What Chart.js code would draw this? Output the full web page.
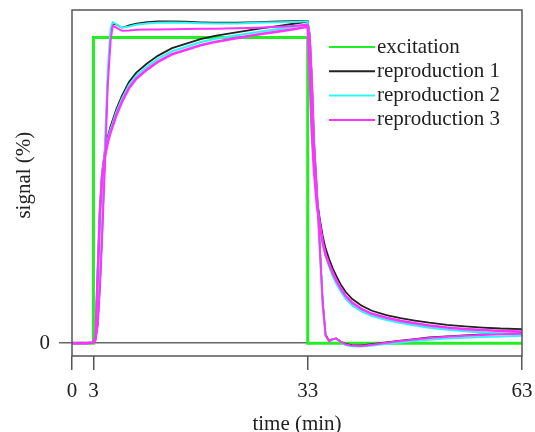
<!DOCTYPE html>
<html>
<head>
<meta charset="utf-8">
<script src="https://cdn.jsdelivr.net/npm/chart.js@4.4.1/dist/chart.umd.min.js"></script>
<style>
  html, body { margin: 0; padding: 0; background: #fff; }
</style>
</head>
<body>
<canvas id="signalChart" width="535" height="432"></canvas>
<script>
// time axis (min) shared by the reproduction traces
const timeMin = [0, 1, 2, 3, 3.3, 3.6, 3.9, 4.2, 4.6, 5.0, 5.4, 5.7, 6.2, 7.0, 8.0, 9.0, 10.5, 12, 14, 16, 18, 20, 23, 26, 29, 31, 33,
  33.3, 33.6, 33.9, 34.3, 34.7, 35.1, 35.5, 36.0, 36.5, 37.0, 37.6, 38.3, 39.2, 40.5, 42, 44, 46, 48, 50, 52.5, 55, 57.5, 60, 63];

// excitation step
const excTime = [0, 3, 3, 33, 33, 63];
const excValue = [0, 0, 100, 100, 0, 0];

// fast responding traces
const rep1Fast = [0, 0, 0, 0.2, 1, 6, 18, 34, 60, 86, 101, 104.6, 104.2, 103.2, 104, 104.6, 105.1, 105.3, 105.3, 105.2, 105, 104.9, 104.9, 105.1, 105.3, 105.4, 105.5,
  101, 86, 66, 50, 32, 14, 3, 0.8, 1.4, 1.6, 0.6, -0.2, -0.6, -0.7, -0.3, 0.3, 0.9, 1.4, 1.9, 2.3, 2.6, 2.9, 3.1, 3.3];
const rep2Fast = [0, 0, 0, 0.2, 1.5, 8, 21, 38, 64, 89, 103, 105, 104.4, 103.2, 103.6, 104.2, 104.6, 104.8, 104.9, 104.8, 104.7, 104.6, 104.6, 104.8, 105, 105.1, 105.3,
  100, 84, 64, 48, 30, 12, 2.5, 0.5, 1.2, 1.4, 0.3, -0.6, -1.0, -1.1, -0.8, -0.3, 0.2, 0.7, 1.1, 1.5, 1.8, 2.0, 2.2, 2.4];
const rep3Fast = [0, 0, 0, 0.2, 1, 6, 18, 34, 58, 84, 99, 103.8, 103.2, 102.2, 102.3, 102.5, 102.6, 102.6, 102.7, 102.8, 102.9, 102.9, 103, 103.2, 103.5, 103.8, 104.2,
  100, 85, 65, 49, 31, 13, 2.5, 0.6, 1.3, 1.5, 0.4, -0.4, -0.8, -0.9, -0.5, 0.1, 0.7, 1.2, 1.7, 2.1, 2.4, 2.7, 2.9, 3.1];

// slow responding traces
const rep1Slow = [0, 0, 0, 0.2, 2, 23, 43, 55.5, 63, 67.5, 71, 73, 76.5, 81, 85.5, 88.5, 91.5, 94, 96.5, 98, 99.5, 100.5, 101.7, 102.8, 103.8, 104.5, 105.2,
  90, 70, 58, 47, 40.5, 35, 31, 27.5, 24.5, 22, 19.3, 16.8, 14.5, 12.3, 10.6, 9.2, 8.2, 7.4, 6.7, 6, 5.5, 5.1, 4.8, 4.6];
const rep2Slow = [0, 0, 0, 0.2, 2, 23, 43, 55, 62, 66.5, 70, 72, 75.5, 80, 84.5, 87.5, 90.5, 93, 95.5, 97, 98.5, 99.5, 100.7, 101.8, 102.8, 103.5, 104.3,
  89, 69, 57, 45.5, 38.5, 32.5, 28.5, 25, 22, 19.5, 17, 14.6, 12.4, 10.4, 8.9, 7.6, 6.6, 5.8, 5.1, 4.4, 3.9, 3.5, 3.2, 3.0];
const rep3Slow = [0, 0, 0, 0.2, 2, 22, 42, 54, 61, 65.5, 69, 71, 74.5, 79, 83.5, 86.5, 89.5, 92, 94.5, 96, 97.5, 98.5, 99.8, 101, 102, 102.7, 103.5,
  88, 68, 56, 45, 38.5, 33, 29, 25.8, 23, 20.5, 18, 15.5, 13.3, 11.2, 9.6, 8.3, 7.3, 6.5, 5.8, 5.1, 4.6, 4.3, 4.0, 3.8];

const xTickValues = [0, 3, 33, 63];
const yTickValues = [0];
const legendLabels = ['excitation', 'reproduction 1', 'reproduction 2', 'reproduction 3'];
const legendColors = ['#22ee22', '#222222', '#33f4f4', '#ff33ff'];

const toPoints = (xs, ys) => ys.map((y, i) => ({ x: xs[i], y: y }));

const serif = '"Liberation Serif", "Times New Roman", serif';

const trace = (values, color, width, order) => ({
  data: toPoints(timeMin, values),
  borderColor: color,
  borderWidth: width,
  pointRadius: 0,
  tension: 0,
  order: order
});

const datasets = [
  {
    data: toPoints(excTime, excValue),
    borderColor: legendColors[0],
    borderWidth: 3,
    pointRadius: 0,
    tension: 0,
    order: 10
  },
  trace(rep1Fast, legendColors[1], 1.5, 5),
  trace(rep1Slow, legendColors[1], 1.8, 5),
  trace(rep2Fast, legendColors[2], 2, 3),
  trace(rep2Slow, legendColors[2], 2.2, 3),
  trace(rep3Fast, legendColors[3], 2, 1),
  trace(rep3Slow, legendColors[3], 2.6, 1)
];

// scales should not add their own label padding to the plot area
const noScalePadding = (scale) => {
  scale.paddingTop = 0;
  scale.paddingBottom = 0;
  scale.paddingLeft = 0;
  scale.paddingRight = 0;
};

// box around the plot and the legend inside it
const frameAndLegend = {
  id: 'frameAndLegend',
  afterDatasetsDraw(chart) {
    const { ctx, chartArea: a } = chart;
    ctx.save();
    ctx.strokeStyle = '#555';
    ctx.lineWidth = 1.5;
    ctx.strokeRect(a.left, a.top, a.right - a.left, a.bottom - a.top);

    ctx.font = '21px ' + serif;
    ctx.textBaseline = 'middle';
    ctx.textAlign = 'left';
    legendLabels.forEach((label, i) => {
      const y = 47 + i * 24.3;
      ctx.strokeStyle = legendColors[i];
      ctx.lineWidth = 2;
      ctx.beginPath();
      ctx.moveTo(329, y);
      ctx.lineTo(375, y);
      ctx.stroke();
      ctx.fillStyle = '#222';
      ctx.fillText(label, 377, y);
    });
    ctx.restore();
  }
};

new Chart(document.getElementById('signalChart'), {
  type: 'line',
  data: { datasets: datasets },
  plugins: [frameAndLegend],
  options: {
    responsive: false,
    animation: false,
    layout: { padding: { left: 0, right: 13, top: 10, bottom: 0 } },
    plugins: {
      legend: { display: false },
      tooltip: { enabled: false }
    },
    scales: {
      x: {
        type: 'linear',
        min: 0,
        max: 63,
        afterBuildTicks: (scale) => { scale.ticks = xTickValues.map(v => ({ value: v })); },
        afterFit: (scale) => { scale.height = 76; noScalePadding(scale); },
        border: { display: false },
        grid: { drawOnChartArea: false, drawTicks: true, tickLength: 14, color: '#555', lineWidth: 1.5 },
        ticks: {
          autoSkip: false,
          maxRotation: 0,
          minRotation: 0,
          padding: 9,
          color: '#222',
          font: { family: serif, size: 21 }
        },
        title: {
          display: true,
          text: 'time (min)',
          color: '#222',
          padding: { top: 0, bottom: 0 },
          font: { family: serif, size: 21, lineHeight: 0.7 }
        }
      },
      y: {
        type: 'linear',
        min: -4.2,
        max: 109,
        afterBuildTicks: (scale) => { scale.ticks = yTickValues.map(v => ({ value: v })); },
        afterFit: (scale) => { scale.width = 72; noScalePadding(scale); },
        border: { display: false },
        grid: { drawOnChartArea: true, drawTicks: true, tickLength: 13, color: '#666', lineWidth: 1.5 },
        ticks: {
          padding: 9,
          color: '#222',
          font: { family: serif, size: 21 }
        },
        title: {
          display: true,
          text: '   signal (%)',
          color: '#222',
          padding: { top: 12, bottom: 0 },
          font: { family: serif, size: 21 }
        }
      }
    }
  }
});
</script>
</body>
</html>
